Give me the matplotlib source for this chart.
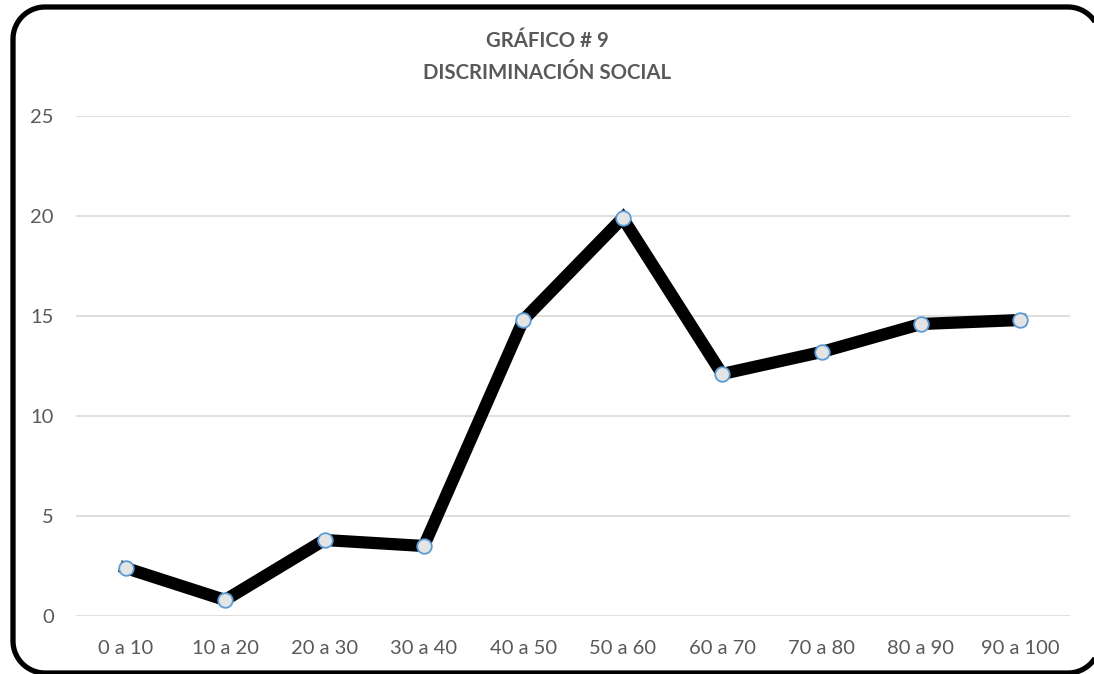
import numpy as np
import matplotlib
matplotlib.use("Agg")
import matplotlib.pyplot as plt
from matplotlib.patches import Polygon

categories = ["0 a 10", "10 a 20", "20 a 30", "30 a 40", "40 a 50",
              "50 a 60", "60 a 70", "70 a 80", "80 a 90", "90 a 100"]
values = [2.4, 0.8, 3.8, 3.5, 14.8, 19.9, 12.1, 13.2, 14.6, 14.8]
yticks = [0, 5, 10, 15, 20, 25]
title = "GRÁFICO # 9\nDISCRIMINACIÓN SOCIAL"

plt.rcParams['font.family'] = ['Lato', 'DejaVu Sans']
text_color = "#595959"

W, H = 1094, 674
fig = plt.figure(figsize=(W / 100, H / 100), dpi=100)
ax = fig.add_axes([76 / W, 1 - 616 / H, (1070 - 76) / W, 500 / H])

x = list(range(len(categories)))
ax.plot(x, values, color="black", linewidth=8.8, solid_joinstyle="miter",
        marker="o", markersize=10.5, markerfacecolor="#e4e4e4",
        markeredgecolor="#5b9bd5", markeredgewidth=1.3, zorder=3)

ax.set_xlim(-0.5, len(categories) - 0.5)
ax.set_ylim(0, 25)
ax.set_yticks(yticks)
ax.set_xticks(x)
ax.set_xticklabels(categories)
ax.grid(axis="y", color="#d9d9d9", linewidth=1.2)
ax.set_axisbelow(True)
for s in ax.spines.values():
    s.set_visible(False)
ax.tick_params(axis="both", length=0, labelsize=14.5, colors=text_color)
ax.tick_params(axis="y", pad=16)
ax.tick_params(axis="x", pad=17)

fig.text(0.5, 1 - 57 / H, title, ha="center", va="center", fontsize=14.7,
         fontweight="bold", color=text_color, linespacing=1.75)

# rounded border (pixel geometry, partly outside the canvas right/bottom)
r = 32
left, top, right, bottom = 13, 7, 1100, 673
def arc(cx, cy, a0, a1):
    t = np.radians(np.linspace(a0, a1, 30))
    return cx + r * np.cos(t), cy + r * np.sin(t)
pieces = [
    arc(left + r, top + r, 180, 270),      # top-left
    arc(right - r, top + r, 270, 360),     # top-right
    arc(right - r, bottom - r, 0, 90),     # bottom-right
    arc(left + r, bottom - r, 90, 180),    # bottom-left
]
bx = np.concatenate([p[0] for p in pieces])
by = np.concatenate([p[1] for p in pieces])
pts = np.column_stack([bx / W, 1 - by / H])
fig.add_artist(Polygon(pts, closed=True, fill=False, transform=fig.transFigure,
                       edgecolor="black", linewidth=3.8, joinstyle="round"))

fig.savefig("out.png", dpi=100)
